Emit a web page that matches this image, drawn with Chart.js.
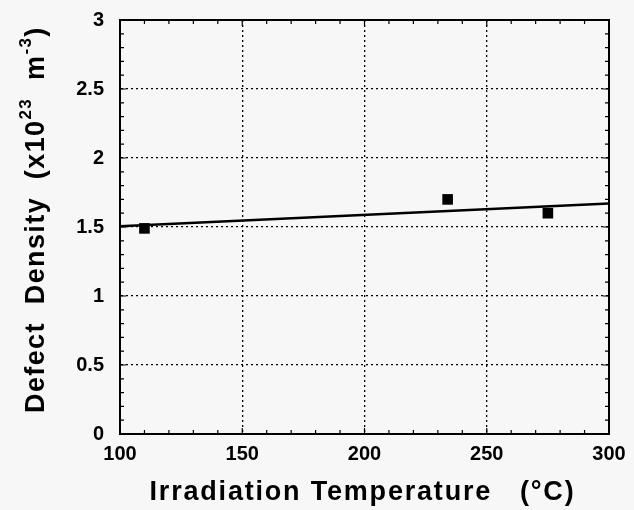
<!DOCTYPE html>
<html><head><meta charset="utf-8">
<script src="https://cdn.jsdelivr.net/npm/chart.js@4/dist/chart.umd.min.js"></script>
<style>
html,body{margin:0;padding:0;background:#f7f7f7;}
#wrap{width:634px;height:510px;}
</style></head><body>
<div id="wrap"><canvas id="c" width="634" height="510"></canvas></div>
<script>
const temperatures = [110, 234, 275];
const densities = [1.49, 1.70, 1.60];
const fitX = [100, 300];
const fitY = [1.505, 1.67];
const xTicks = [100, 150, 200, 250, 300];
const yTicks = [0, 0.5, 1, 1.5, 2, 2.5, 3];
const xTitle = 'Irradiation Temperature   (°C)';
const yTitleParts = [['Defect  Density  (x10', false], ['23', true], ['  m', false], ['-3', true], [')', false]];

const FONT = '"Liberation Sans", Arial, sans-serif';

const decor = {
  id: 'decor',
  afterDraw(chart) {
    const ctx = chart.ctx, a = chart.chartArea;
    const xs = chart.scales.x, ys = chart.scales.y;
    ctx.save();
    ctx.strokeStyle = '#000';
    ctx.lineWidth = 1.2;
    for (let v = 100; v <= 300; v += 10) {
      const p = xs.getPixelForValue(v);
      const len = (v % 50 === 0) ? 6 : 4;
      ctx.beginPath();
      ctx.moveTo(p, a.bottom); ctx.lineTo(p, a.bottom - len);
      ctx.moveTo(p, a.top); ctx.lineTo(p, a.top + len);
      ctx.stroke();
    }
    for (let i = 0; i <= 30; i++) {
      const v = i / 10;
      const p = ys.getPixelForValue(v);
      const len = (i % 5 === 0) ? 6 : 4;
      ctx.beginPath();
      ctx.moveTo(a.left, p); ctx.lineTo(a.left + len, p);
      ctx.moveTo(a.right, p); ctx.lineTo(a.right - len, p);
      ctx.stroke();
    }
    ctx.lineWidth = 2;
    ctx.strokeRect(a.left, a.top, a.right - a.left, a.bottom - a.top);

    // x title
    ctx.fillStyle = '#000';
    ctx.font = 'bold 27px ' + FONT;
    ctx.letterSpacing = '1.8px';
    ctx.textAlign = 'center';
    ctx.textBaseline = 'alphabetic';
    ctx.fillText(xTitle, (a.left + a.right) / 2 - 2, 500);

    // y title with superscripts
    ctx.translate(44, 413);
    ctx.rotate(-Math.PI / 2);
    ctx.textAlign = 'left';
    ctx.letterSpacing = '1.4px';
    let x = 0;
    for (const [t, sup] of yTitleParts) {
      ctx.font = 'bold ' + (sup ? 17 : 27) + 'px ' + FONT;
      ctx.fillText(t, x, sup ? -13 : 0);
      x += ctx.measureText(t).width;
    }
    ctx.restore();
  }
};

new Chart(document.getElementById('c'), {
  type: 'scatter',
  data: {
    datasets: [
      {
        label: 'fit',
        type: 'line',
        data: fitX.map((x, i) => ({x: x, y: fitY[i]})),
        borderColor: '#000',
        borderWidth: 2.5,
        pointRadius: 0,
        fill: false
      },
      {
        label: 'data',
        data: temperatures.map((x, i) => ({x: x, y: densities[i]})),
        pointStyle: 'rect',
        pointRadius: 7.5,
        backgroundColor: '#000',
        borderColor: '#000',
        borderWidth: 0
      }
    ]
  },
  plugins: [decor],
  options: {
    responsive: false,
    animation: false,
    layout: { padding: { left: 0, right: 25, top: 20, bottom: 0 } },
    plugins: { legend: { display: false }, tooltip: { enabled: false } },
    scales: {
      x: {
        type: 'linear', min: 100, max: 300,
        afterBuildTicks: s => { s.ticks = xTicks.map(v => ({value: v})); },
        afterFit: s => { s.height = 76; s.paddingLeft = 0; s.paddingRight = 0; },
        grid: { color: '#000', lineWidth: 1.3, drawTicks: false },
        border: { display: true, color: '#000', width: 2, dash: [2, 3] },
        ticks: { color: '#000', font: { family: FONT, size: 20, weight: 'bold' }, padding: 8, maxRotation: 0,
                 callback: v => String(v) }
      },
      y: {
        type: 'linear', min: 0, max: 3,
        afterBuildTicks: s => { s.ticks = yTicks.map(v => ({value: v})); },
        afterFit: s => { s.width = 120; s.paddingTop = 0; s.paddingBottom = 0; },
        grid: { color: '#000', lineWidth: 1.3, drawTicks: false },
        border: { display: true, color: '#000', width: 2, dash: [2, 3] },
        ticks: { color: '#000', font: { family: FONT, size: 20, weight: 'bold' }, padding: 16,
                 callback: v => String(v) }
      }
    }
  }
});
</script>
</body></html>
